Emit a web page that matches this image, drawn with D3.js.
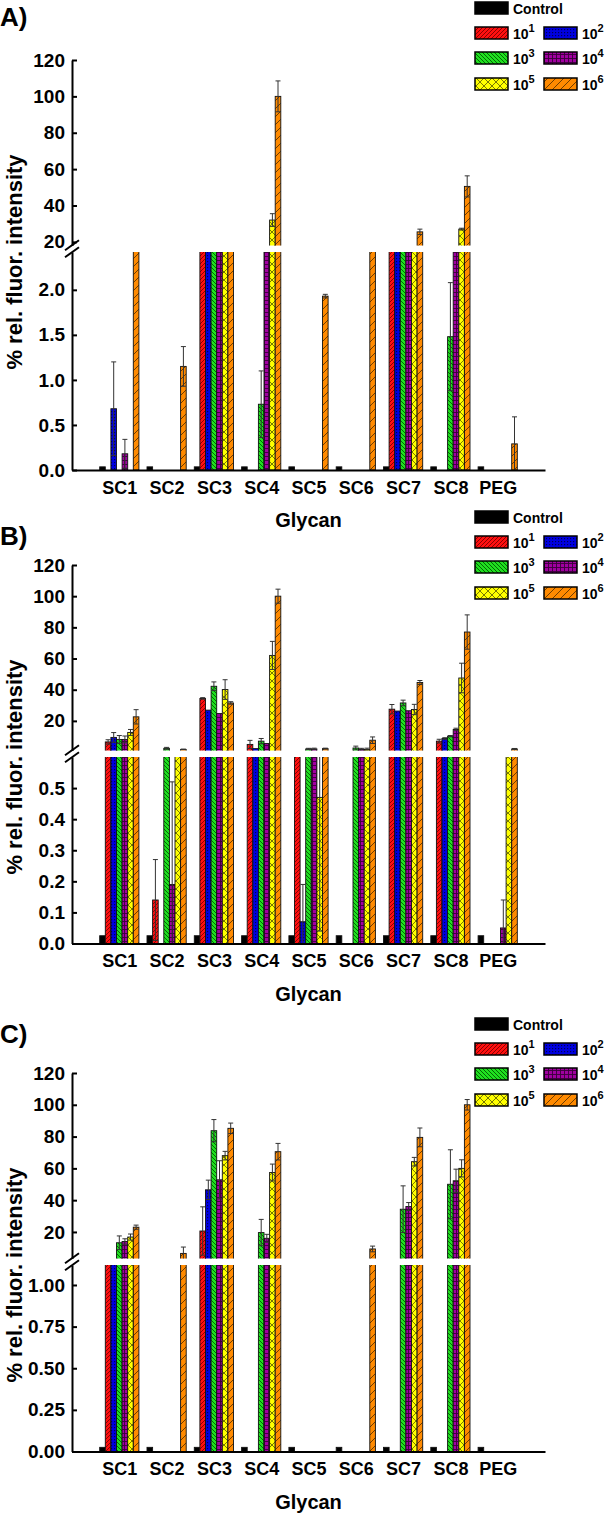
<!DOCTYPE html>
<html>
<head>
<meta charset="utf-8">
<script src="https://cdnjs.cloudflare.com/ajax/libs/d3/7.8.5/d3.min.js"></script>
<style>
  body { margin: 0; background: #fff; }
  svg  { display: block; font-family: "Liberation Sans", Arial, sans-serif; font-weight: bold; }
</style>
</head>
<body>
<svg id="chart" width="605" height="1516"></svg>
<script>
// Glycan binding, three panels with broken y axis
// ------------------------------------------------------------------

// Categories / series ----------------------------------------------
const glycans    = ["SC1", "SC2", "SC3", "SC4", "SC5", "SC6", "SC7", "SC8", "PEG"];
const seriesKeys = ["ctrl", "e1", "e2", "e3", "e4", "e5", "e6"];
const seriesSup  = [null, "1", "2", "3", "4", "5", "6"];

// Panel A values (% rel. fluor. intensity) -------------------------
const aCtrl = [0.035, 0.035, 0.035, 0.035, 0.035, 0.035, 0.035, 0.035, 0.035];
const a1    = [0, 0, 8, 0, 0, 0, 9, 0, 0];
const a2    = [0.68, 0, 7, 0, 0, 0, 8, 0, 0];
const a3    = [0, 0, 10, 0.73, 0, 0, 10, 1.48, 0];
const a4    = [0.18, 0, 9, 6, 0, 0, 9, 12, 0];
const a5    = [0, 0, 11, 32, 0, 0, 12, 27, 0];
const a6    = [9, 1.15, 12, 100, 1.93, 6, 25.5, 50.5, 0.29];
const a1Err = [0, 0, 0, 0, 0, 0, 0, 0, 0];
const a2Err = [0.52, 0, 0, 0, 0, 0, 0, 0, 0];
const a3Err = [0, 0, 0, 0.37, 0, 0, 0, 0.6, 0];
const a4Err = [0.16, 0, 0, 0, 0, 0, 0, 0, 0];
const a5Err = [0, 0, 0, 3.5, 0, 0, 0, 0.5, 0];
const a6Err = [0, 0.22, 0, 8.5, 0.02, 0, 1.5, 5.8, 0.3];

// Panel B values ---------------------------------------------------
const bCtrl = [0.025, 0.025, 0.025, 0.025, 0.025, 0.025, 0.025, 0.025, 0.025];
const b1    = [6.5, 0.14, 34.4, 4.9, 0.85, 0, 27.5, 7.0, 0];
const b2    = [9.4, 0, 26.9, 2.2, 0.07, 0, 26.3, 8.7, 0];
const b3    = [8.1, 2.4, 42.2, 7.0, 2.0, 2.6, 31.5, 10.2, 0];
const b4    = [8.1, 0.19, 24.7, 5.5, 2.0, 1.8, 26.5, 14.5, 0.05];
const b5    = [12.6, 0.8, 40.1, 62, 0.47, 1.7, 27.3, 47.5, 0.9];
const b6    = [22.6, 1.7, 31.5, 100, 2.2, 7.6, 44.6, 77, 2.0];
const b1Err = [1.4, 0.13, 0.5, 2.6, 0, 0, 3, 1.2, 0];
const b2Err = [3.1, 0, 0, 0, 0.12, 0, 0, 0.5, 0];
const b3Err = [2.5, 0.6, 2.8, 1.7, 0.4, 1.2, 1.8, 0.4, 0];
const b4Err = [2.2, 0.33, 0, 0, 0.5, 0.6, 0, 0.8, 0.09];
const b5Err = [1.9, 0, 6.3, 9, 0.43, 0.8, 3.3, 9.5, 0];
const b6Err = [4.6, 0.2, 0.8, 4.5, 0.3, 2.1, 1.3, 11, 0.3];

// Panel C values ---------------------------------------------------
const cCtrl = [0.025, 0.025, 0.025, 0.025, 0.025, 0.025, 0.025, 0.025, 0.025];
const c1    = [2, 0, 20.6, 0, 0, 0, 0, 0, 0];
const c2    = [2, 0, 46.5, 0, 0, 0, 0, 0, 0];
const c3    = [13.2, 0, 83.7, 19.6, 0, 0, 34.3, 50, 0];
const c4    = [14, 0, 52.8, 16, 0, 0, 36, 52.2, 0];
const c5    = [16.8, 0, 68, 57.4, 0, 0, 64.2, 60, 0];
const c6    = [23, 6.5, 85.2, 70.5, 0, 9.3, 79.5, 100, 0];
const c1Err = [0, 0, 15.2, 0, 0, 0, 0, 0, 0];
const c2Err = [0, 0, 6.1, 0, 0, 0, 0, 0, 0];
const c3Err = [4.3, 0, 7, 8.3, 0, 0, 14.7, 21.7, 0];
const c4Err = [1.7, 0, 12, 2.5, 0, 0, 2.5, 7.3, 0];
const c5Err = [1.9, 0, 2.7, 5.3, 0, 0, 2.7, 5.4, 0];
const c6Err = [1.3, 4, 3.3, 5.2, 0, 1.8, 5.9, 3.3, 0];

// Axis ticks -------------------------------------------------------
const upperTicks = [20, 40, 60, 80, 100, 120];
const aLowTicks  = [0, 0.5, 1.0, 1.5, 2.0];
const bLowTicks  = [0, 0.1, 0.2, 0.3, 0.4, 0.5];
const cLowTicks  = [0, 0.25, 0.5, 0.75, 1.0];

// Panel table built from the arrays above -------------------------
const zero = glycans.map(() => 0);
const panels = [
  { label: "A)", off: 0,    labelY: 26, legTop: 2,  loBot: 470,
    upper: [18, 120], lower: [0, 2.42], lowTicks: aLowTicks, fmt: ".1f",
    vals: [aCtrl, a1, a2, a3, a4, a5, a6], errs: [zero, a1Err, a2Err, a3Err, a4Err, a5Err, a6Err] },
  { label: "B)", off: 505,  labelY: 40, legTop: 6,  loBot: 438.5,
    upper: [1, 120], lower: [0, 0.6], lowTicks: bLowTicks, fmt: ".1f",
    vals: [bCtrl, b1, b2, b3, b4, b5, b6], errs: [zero, b1Err, b2Err, b3Err, b4Err, b5Err, b6Err] },
  { label: "C)", off: 1013, labelY: 30, legTop: 5,  loBot: 438.5,
    upper: [3.3, 120], lower: [0, 1.12], lowTicks: cLowTicks, fmt: ".2f",
    vals: [cCtrl, c1, c2, c3, c4, c5, c6], errs: [zero, c1Err, c2Err, c3Err, c4Err, c5Err, c6Err] }
];

// Layout -----------------------------------------------------------
const W = 605;
const upTop = 60, upBot = 245.5, loTop = 252;

const svg  = d3.select("#chart");
const defs = svg.append("defs");

const x  = d3.scaleLinear().domain([0, 10]).range([72, 545]);
const xi = d3.scaleBand().domain(seriesKeys).range([-19.6, 19.6]);

// Fill patterns ----------------------------------------------------
const fills = {
  ctrl: "#000",
  e1: "url(#p-e1)", e2: "url(#p-e2)", e3: "url(#p-e3)",
  e4: "url(#p-e4)", e5: "url(#p-e5)", e6: "url(#p-e6)"
};

function pattern(id, size, bg, path, stroke, sw) {
  const p = defs.append("pattern").attr("id", id)
    .attr("patternUnits", "userSpaceOnUse")
    .attr("width", size).attr("height", size);
  p.append("rect").attr("width", size).attr("height", size).attr("fill", bg);
  p.append("path").attr("d", path).attr("stroke", stroke)
    .attr("stroke-width", sw).attr("fill", "none");
}
pattern("p-e1", 4, "#ff1010", "M-1,1L1,-1M0,4L4,0M3,5L5,3", "#7a0000", 0.9);
pattern("p-e2", 3, "#0000e0", "M0,0.5H1.2M0.5,0V1.2", "#000050", 0.9);
pattern("p-e3", 4, "#20e020", "M-1,3L1,5M0,0L4,4M3,-1L5,1", "#005a00", 0.9);
pattern("p-e4", 4, "#a000a0", "M0,0.5H4M0.5,0V4", "#3a003a", 0.9);
pattern("p-e5", 8, "#ffff00", "M0,0L8,8M8,0L0,8", "#6a6a00", 0.9);
pattern("p-e6", 8, "#ff8a00", "M-2,2L2,-2M0,8L8,0M6,10L10,6", "#4a2a00", 0.8);

// Panels -----------------------------------------------------------
panels.forEach((p, pi) => {
  const g = svg.append("g").attr("transform", `translate(0,${p.off})`);
  const loBot = p.loBot;

  const yU = d3.scaleLinear().domain(p.upper).range([upBot, upTop]);
  const yL = d3.scaleLinear().domain(p.lower).range([loBot, loTop]);

  defs.append("clipPath").attr("id", `cu${pi}`)
    .append("rect").attr("x", 0).attr("y", 0).attr("width", W).attr("height", upBot);
  defs.append("clipPath").attr("id", `cl${pi}`)
    .append("rect").attr("x", 0).attr("y", loTop).attr("width", W).attr("height", loBot - loTop);

  const rows = [];
  seriesKeys.forEach((k, si) => {
    glycans.forEach((gl, i) => rows.push({ k, i, v: p.vals[si][i], e: p.errs[si][i] }));
  });

  const segs = [
    { y: yL, clip: `cl${pi}`, base: p.lower[0], bottom: loBot },
    { y: yU, clip: `cu${pi}`, base: p.upper[0], bottom: upBot + 4 }
  ];

  segs.forEach(s => {
    const sg = g.append("g").attr("clip-path", `url(#${s.clip})`);
    const live = rows.filter(d => d.v > s.base);

    sg.selectAll("rect.bar").data(live).join("rect")
      .attr("class", "bar")
      .attr("x", d => x(d.i + 1) + xi(d.k))
      .attr("width", xi.bandwidth())
      .attr("y", d => s.y(d.v))
      .attr("height", d => s.bottom - s.y(d.v))
      .attr("fill", d => fills[d.k])
      .attr("stroke", "#111")
      .attr("stroke-width", 0.9);

    // error bars (+/-, capped)
    const eb = sg.selectAll("g.err").data(live.filter(d => d.e > 0)).join("g")
      .attr("class", "err")
      .attr("stroke", "#333").attr("stroke-width", 1);
    const cx = d => x(d.i + 1) + xi(d.k) + xi.bandwidth() / 2;
    eb.append("line")
      .attr("x1", cx).attr("x2", cx)
      .attr("y1", d => s.y(Math.max(d.v - d.e, 0)))
      .attr("y2", d => s.y(d.v + d.e));
    eb.append("line")
      .attr("x1", d => cx(d) - 2.5).attr("x2", d => cx(d) + 2.5)
      .attr("y1", d => s.y(d.v + d.e)).attr("y2", d => s.y(d.v + d.e));
    eb.filter(d => d.v - d.e > 0).append("line")
      .attr("x1", d => cx(d) - 2.5).attr("x2", d => cx(d) + 2.5)
      .attr("y1", d => s.y(d.v - d.e)).attr("y2", d => s.y(d.v - d.e));
  });

  // Y axes (ticks point inward) ----------------------------------
  const yAxU = g.append("g").attr("transform", `translate(${x(0)},0)`)
    .call(d3.axisLeft(yU).tickValues(upperTicks).tickFormat(d3.format("d"))
      .tickSize(-5).tickSizeOuter(0).tickPadding(7));
  const yAxL = g.append("g").attr("transform", `translate(${x(0)},0)`)
    .call(d3.axisLeft(yL).tickValues(p.lowTicks).tickFormat(d3.format(p.fmt))
      .tickSize(-5).tickSizeOuter(0).tickPadding(7));

  [yAxU, yAxL].forEach(a => {
    a.select(".domain").attr("stroke", "#000").attr("stroke-width", 2);
    a.selectAll(".tick line").attr("stroke", "#000").attr("stroke-width", 2);
    a.selectAll(".tick text").attr("fill", "#000")
      .style("font-size", "19px").style("font-weight", "bold")
      .style("font-family", "'Liberation Sans', Arial, sans-serif");
  });

  // axis break marks
  const bx = x(0), by = (upBot + loTop) / 2;
  g.append("g").attr("stroke", "#000").attr("stroke-width", 2)
    .selectAll("line").data([-3.5, 3.5]).join("line")
    .attr("x1", bx - 7).attr("y1", d => by + d + 5)
    .attr("x2", bx + 7).attr("y2", d => by + d - 5);

  // X axis --------------------------------------------------------
  const xAx = g.append("g").attr("transform", `translate(0,${loBot})`)
    .call(d3.axisBottom(x).tickValues(d3.range(1, 10))
      .tickFormat(v => glycans[v - 1]).tickSize(0).tickSizeOuter(0).tickPadding(11));
  xAx.select(".domain").attr("stroke", "#000").attr("stroke-width", 2);
  xAx.selectAll(".tick text").attr("fill", "#000")
    .style("font-size", "18px").style("font-weight", "bold")
    .style("font-family", "'Liberation Sans', Arial, sans-serif");

  g.append("text")
    .attr("x", (x(0) + x(10)) / 2).attr("y", loBot + 57)
    .attr("text-anchor", "middle").style("font-size", "20px")
    .text("Glycan");

  g.append("text")
    .attr("transform", "translate(22,262) rotate(-90)")
    .attr("text-anchor", "middle").style("font-size", "22px")
    .text("% rel. fluor. intensity");

  g.append("text").attr("x", 0).attr("y", p.labelY)
    .style("font-size", "26px").text(p.label);

  // Legend --------------------------------------------------------
  const lg = g.append("g").attr("transform", `translate(0,${p.legTop})`);
  const slots = [[475, 0], [475, 25], [544, 25], [475, 50], [544, 50], [475, 76], [544, 76]];
  seriesKeys.forEach((k, si) => {
    const [lx, ly] = slots[si];
    lg.append("rect").attr("x", lx).attr("y", ly).attr("width", 33).attr("height", 12)
      .attr("fill", fills[k]).attr("stroke", "#000").attr("stroke-width", 1.5);
    const t = lg.append("text").attr("x", lx + 38).attr("y", ly + 12).style("font-size", "14px");
    if (seriesSup[si] === null) {
      t.text("Control");
    } else {
      t.append("tspan").text("10");
      t.append("tspan").attr("dy", -7).style("font-size", "11px").text(seriesSup[si]);
    }
  });
});
</script>
</body>
</html>
